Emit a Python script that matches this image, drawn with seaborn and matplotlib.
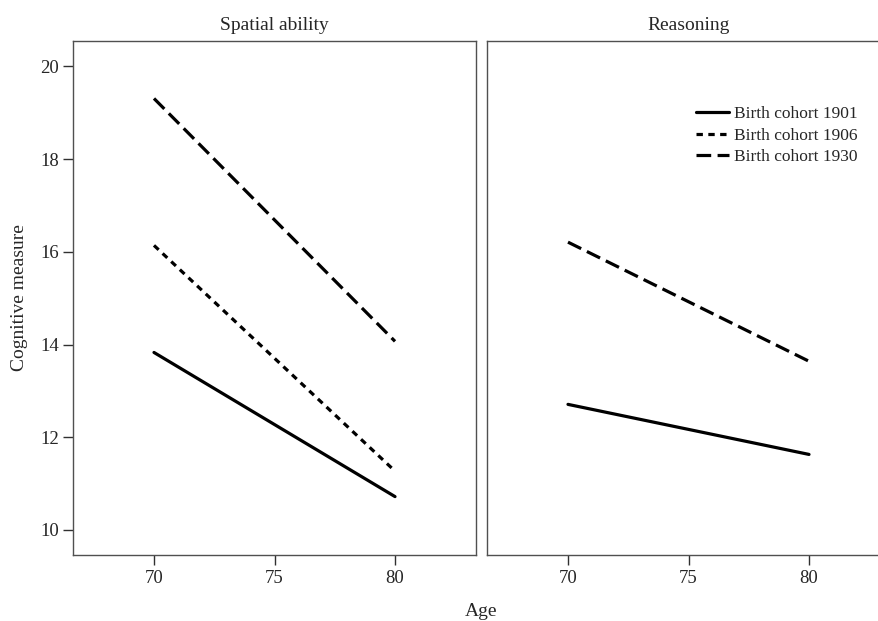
import matplotlib
matplotlib.use("Agg")
import matplotlib.pyplot as plt
import seaborn as sns
import pandas as pd

# values
ages = [70, 80]
cohorts = ["Birth cohort 1901", "Birth cohort 1906", "Birth cohort 1930"]
spatial_1901 = [13.83, 10.72]
spatial_1906 = [16.14, 11.27]
spatial_1930 = [19.31, 14.07]
reason_1901 = [12.71, 11.63]
reason_1930 = [16.21, 13.64]

rows = []
for cohort, vals in zip(cohorts, [spatial_1901, spatial_1906, spatial_1930]):
    for a, v in zip(ages, vals):
        rows.append(("Spatial ability", cohort, a, v))
for cohort, vals in zip([cohorts[0], cohorts[2]], [reason_1901, reason_1930]):
    for a, v in zip(ages, vals):
        rows.append(("Reasoning", cohort, a, v))
df = pd.DataFrame(rows, columns=["panel", "cohort", "age", "score"])

sns.set_style("white")
plt.rcParams["font.family"] = ["Liberation Serif", "DejaVu Serif"]

W, H = 879, 621
fig = plt.figure(figsize=(W / 100, H / 100), dpi=100)
ax1 = fig.add_axes([73 / W, (H - 555) / H, (476 - 73) / W, (555 - 41) / H])
ax2 = fig.add_axes([487 / W, (H - 555) / H, (890 - 487) / W, (555 - 41) / H])

dash_map = {cohorts[0]: "", cohorts[1]: (2, 1.7), cohorts[2]: (4.6, 2)}

sns.lineplot(data=df[df.panel == "Spatial ability"], x="age", y="score",
             style="cohort", style_order=cohorts, dashes=dash_map,
             color="black", lw=2.3, ax=ax1, legend=True)
sns.lineplot(data=df[df.panel == "Reasoning"], x="age", y="score",
             style="cohort", style_order=cohorts, dashes=dash_map,
             color="black", lw=2.3, ax=ax2, legend=False)

# legend lives in the right panel, but takes the left panel's entries
leg = ax1.get_legend()
handles = leg.legend_handles
labels = [t.get_text() for t in leg.get_texts()]
leg.remove()
ax2.legend(handles, labels, loc="upper left", bbox_to_anchor=(0.519, 0.874),
           frameon=False, borderpad=0, borderaxespad=0, handlelength=1.9,
           handletextpad=0.3, labelspacing=0.32, fontsize=12.5)

for ax, title in [(ax1, "Spatial ability"), (ax2, "Reasoning")]:
    ax.set_xlim(66.64, 83.36)
    ax.set_ylim(9.46, 20.55)
    ax.set_xticks([70, 75, 80])
    ax.set_yticks([10, 12, 14, 16, 18, 20])
    ax.set_xlabel("")
    ax.set_ylabel("")
    ax.set_title(title, fontsize=14, pad=8)
    for s in ax.spines.values():
        s.set_color("#505050")
        s.set_linewidth(1.0)
    ax.tick_params(axis="both", direction="out", length=7, width=1,
                   color="#303030", labelsize=13.5, pad=4)

ax1.tick_params(axis="y", left=True, pad=3)
ax1.tick_params(axis="x", bottom=True)
ax2.tick_params(axis="x", bottom=True)
ax2.tick_params(axis="y", left=False, labelleft=False)

fig.text(481 / W, 1 - 611 / H, "Age", ha="center", va="center", fontsize=14)
fig.text(20 / W, 1 - 298 / H, "Cognitive measure", ha="center", va="center",
         rotation=90, fontsize=14)

fig.savefig("out.png", dpi=100)
